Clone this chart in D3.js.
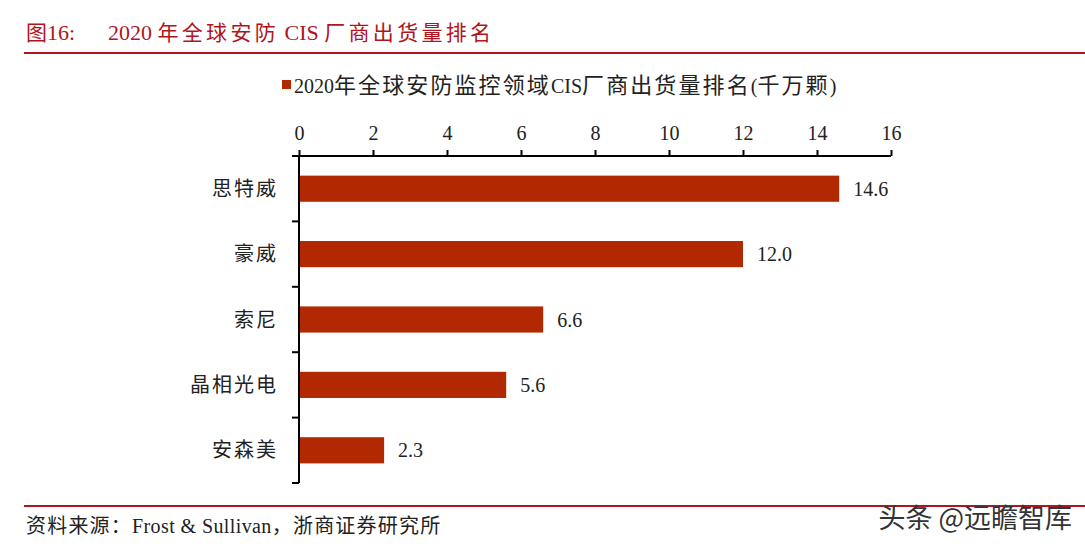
<!DOCTYPE html>
<html><head><meta charset="utf-8">
<script src="https://cdn.jsdelivr.net/npm/d3@7"></script>
<style>body{margin:0;background:#fff;}svg{display:block;}</style>
</head><body>
<svg id="c" width="1085" height="549"></svg>
<script>
const categories = ["思特威","豪威","索尼","晶相光电","安森美"];
const values = [14.6, 12.0, 6.6, 5.6, 2.3];
const valueLabels = ["14.6","12.0","6.6","5.6","2.3"];
const xTicks = [0,2,4,6,8,10,12,14,16];
const seriesName = "2020年全球安防监控领域CIS厂商出货量排名(千万颗)";
const titleLabel = "图16:";
const titleText = "2020 年全球安防 CIS 厂商出货量排名";
const sourceText = "资料来源：Frost & Sullivan，浙商证券研究所";
const watermark = "头条 @远瞻智库";

const serif = "'Liberation Serif','Times New Roman','Noto Serif CJK SC','Noto Sans CJK SC',serif";
const cjkFont = "'Noto Sans CJK SC','Liberation Serif',serif";
const barColor = "#B22800";
const red = "#B0141C";
const svg = d3.select("#c");

// split text into CJK / Latin runs with different sizes
function addRuns(sel, str, cjk, lat) {
  const re = /([\u3000-\u303f\u4e00-\u9fff\uff00-\uffef]+)/;
  str.split(re).filter(s => s.length).forEach(s => {
    const isC = re.test(s);
    const st = isC ? cjk : lat;
    sel.append("tspan").style("font-family", isC ? cjkFont : serif)
      .style("font-size", st.size + "px").style("letter-spacing", (st.ls || 0) + "px").text(s);
  });
  return sel;
}

const t1 = svg.append("text").attr("y",40).attr("fill",red).attr("xml:space","preserve");
addRuns(t1.append("tspan").attr("x",26), titleLabel, {size:21}, {size:22});
const t2 = svg.append("text").attr("y",40).attr("fill",red).attr("xml:space","preserve");
addRuns(t2.append("tspan").attr("x",108), titleText, {size:21, ls:3.3}, {size:22});

svg.append("line").attr("x1",24).attr("x2",1085).attr("y1",53).attr("y2",53).attr("stroke",red).attr("stroke-width",2);
svg.append("line").attr("x1",24).attr("x2",1085).attr("y1",506).attr("y2",506).attr("stroke",red).attr("stroke-width",2);

// legend
svg.append("rect").attr("x",282).attr("y",80).attr("width",9).attr("height",9).attr("fill",barColor);
addRuns(svg.append("text").attr("x",294).attr("y",93).attr("fill","#222"), seriesName, {size:22, ls:2.1}, {size:20});

const x = d3.scaleLinear().domain([0,16]).range([299,891]);
const y = d3.scaleBand().domain(categories).range([156,483]).paddingInner(0.6).paddingOuter(0.3);

const xAxis = svg.append("g").attr("transform","translate(0,156)")
  .call(d3.axisTop(x).tickValues(xTicks).tickSize(6).tickPadding(10).tickFormat(d3.format("d")));
xAxis.select(".domain").attr("stroke","#000").attr("stroke-width",2).attr("d","M292,0H891");
xAxis.selectAll(".tick line").attr("stroke","#000").attr("stroke-width",2);
xAxis.selectAll(".tick text").attr("fill","#222").style("font-family",serif).style("font-size","20px");

// y axis line and boundary ticks
svg.append("line").attr("x1",299).attr("x2",299).attr("y1",156).attr("y2",483).attr("stroke","#000").attr("stroke-width",2);
const bounds = d3.range(categories.length+1).map(i => 156 + i*(483-156)/categories.length);
svg.selectAll(".yt").data(bounds).enter().append("line")
  .attr("x1",292).attr("x2",299).attr("y1",d=>d).attr("y2",d=>d).attr("stroke","#000").attr("stroke-width",2);

svg.selectAll(".cat").data(categories).enter().append("text")
  .attr("x",278).attr("y",d=>y(d)+y.bandwidth()/2).attr("dy","0.35em").attr("text-anchor","end")
  .attr("fill","#222").style("font-family",cjkFont).style("font-size","20px").style("letter-spacing","2px").text(d=>d);

svg.selectAll(".bar").data(values).enter().append("rect")
  .attr("x",x(0)+1).attr("y",(d,i)=>y(categories[i])).attr("width",d=>x(d)-x(0)-1).attr("height",y.bandwidth())
  .attr("fill",barColor);

svg.selectAll(".val").data(values).enter().append("text")
  .attr("x",d=>x(d)+14).attr("y",(d,i)=>y(categories[i])+y.bandwidth()/2).attr("dy","0.35em")
  .attr("fill","#222").style("font-family",serif).style("font-size","20px").text((d,i)=>valueLabels[i]);

addRuns(svg.append("text").attr("x",26).attr("y",533).attr("fill","#222"), sourceText, {size:20, ls:1.2}, {size:20, ls:0.4});
svg.append("text").attr("x",1072).attr("y",528).attr("text-anchor","end").attr("fill","#333")
  .style("font-family",cjkFont).style("font-size","27px").text(watermark);
</script>
</body></html>
